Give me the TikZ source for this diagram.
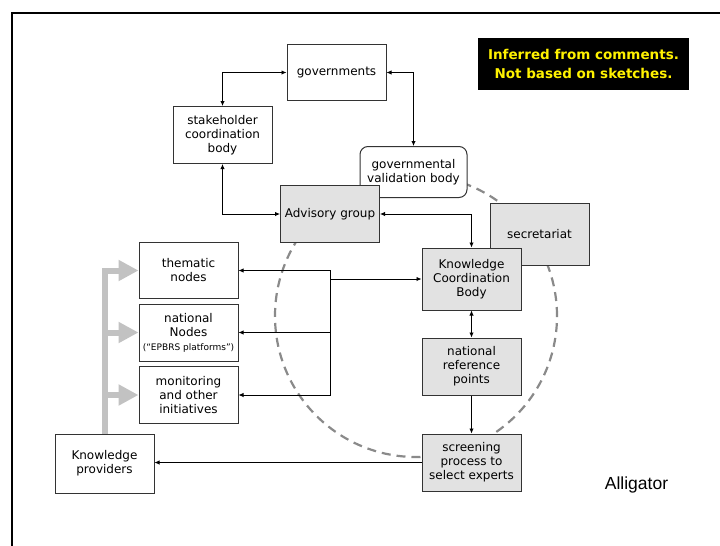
\documentclass[tikz,border=0pt]{standalone}
\usepackage{fontspec}
\setmainfont{DejaVu Sans}
\newfontfamily\arialfont{Liberation Sans}
\usetikzlibrary{arrows.meta}
\definecolor{boxgray}{HTML}{E2E2E2}
\definecolor{bargray}{HTML}{C2C2C2}
\definecolor{ringgray}{HTML}{8A8A8A}
\definecolor{notebg}{HTML}{000000}
\definecolor{noteyellow}{HTML}{FFF200}
\tikzset{
  base/.style={draw=black!80, line width=1pt, inner sep=1pt, align=center,
    minimum width=99pt, minimum height=57pt,
    font=\fontsize{12}{14}\selectfont},
  plainbox/.style={base, fill=white},
  graybox/.style={base, fill=boxgray},
  roundbox/.style={base, fill=white, rounded corners=8pt},
  link/.style={draw=black, line width=0.9pt},
  onehead/.style={link, -{Latex[length=5pt,width=4.5pt]}},
  twohead/.style={link, {Latex[length=5pt,width=4.5pt]}-{Latex[length=5pt,width=4.5pt]}},
  feed/.style={draw=bargray, line width=6pt, -{Triangle[length=20pt,width=20pt]}},
  ring/.style={draw=ringgray, line width=2.2pt, dash pattern=on 9pt off 6pt},
  note/.style={fill=notebg, text=noteyellow, align=center, inner sep=0pt,
    minimum width=211pt, minimum height=52pt,
    font=\fontsize{13.5}{19}\selectfont\bfseries},
  frameline/.style={draw=black, line width=2pt}
}
\begin{document}
\begin{tikzpicture}[x=1pt, y=-1pt]
\useasboundingbox (0,0) rectangle (720,546);

% outer frame
\draw[frameline] (12,546) -- (12,13) -- (720,13);

% dashed ring behind the boxes
\draw[ring] (416,316) circle (141pt);

% boxes
\node[plainbox, minimum height=56pt] (gov) at (336.5,72.5) {governments};
\node[plainbox] (stake) at (222.5,135) {stakeholder\\coordination\\body};
\node[roundbox, minimum width=107pt, minimum height=51pt] (valid) at (413.5,172) {governmental\\validation body};
\node[graybox] (adv) at (330,214) {Advisory group};
\node[graybox, minimum height=62pt] (secr) at (539.5,234) {secretariat};
\node[graybox, minimum height=62pt] (kcb) at (471.5,279) {Knowledge\\Coordination\\Body};
\node[graybox] (nrp) at (471.5,366.5) {national\\reference\\points};
\node[graybox] (screen) at (471.5,462.5) {screening\\process to\\select experts};
\node[plainbox, minimum height=56pt] (them) at (188.5,270.5) {thematic\\nodes};
\node[plainbox] (natn) at (188.5,332.5) {national\\Nodes\\{\fontsize{9}{10.5}\selectfont(“EPBRS platforms”)}};
\node[plainbox] (mon) at (188.5,395) {monitoring\\and other\\initiatives};
\node[plainbox, minimum height=59pt] (kp) at (104.5,463.5) {Knowledge\\providers};

% note and label
\node[note] (remark) at (583.5,64) {Inferred from comments.\\Not based on sketches.};
\node[anchor=base, font=\arialfont\fontsize{17.5}{20}\selectfont] (name) at (636.5,489) {Alligator};

% thick grey feeds from the knowledge providers
\draw[feed] (kp.north) |- (them.west);
\draw[feed] (kp.north) |- (natn.west);
\draw[feed] (kp.north) |- (mon.west);

% connectors
\draw[twohead] (stake.north) |- (gov.west);
\draw[twohead] (gov.east) -| (valid.north);
\draw[twohead] (stake.south) |- (adv.west);
\draw[twohead] (adv.east) -| (kcb.north);
\coordinate (hub) at (330.5,279);
\draw[onehead] (hub) -- (kcb.west);
\draw[onehead] (hub) |- (them.east);
\draw[onehead] (hub) |- (natn.east);
\draw[onehead] (hub) |- (mon.east);
\draw[twohead] (kcb.south) -- (nrp.north);
\draw[onehead] (nrp.south) -- (screen.north);
\draw[onehead] (screen.west) -- (screen.west -| kp.east);
\end{tikzpicture}
\end{document}
